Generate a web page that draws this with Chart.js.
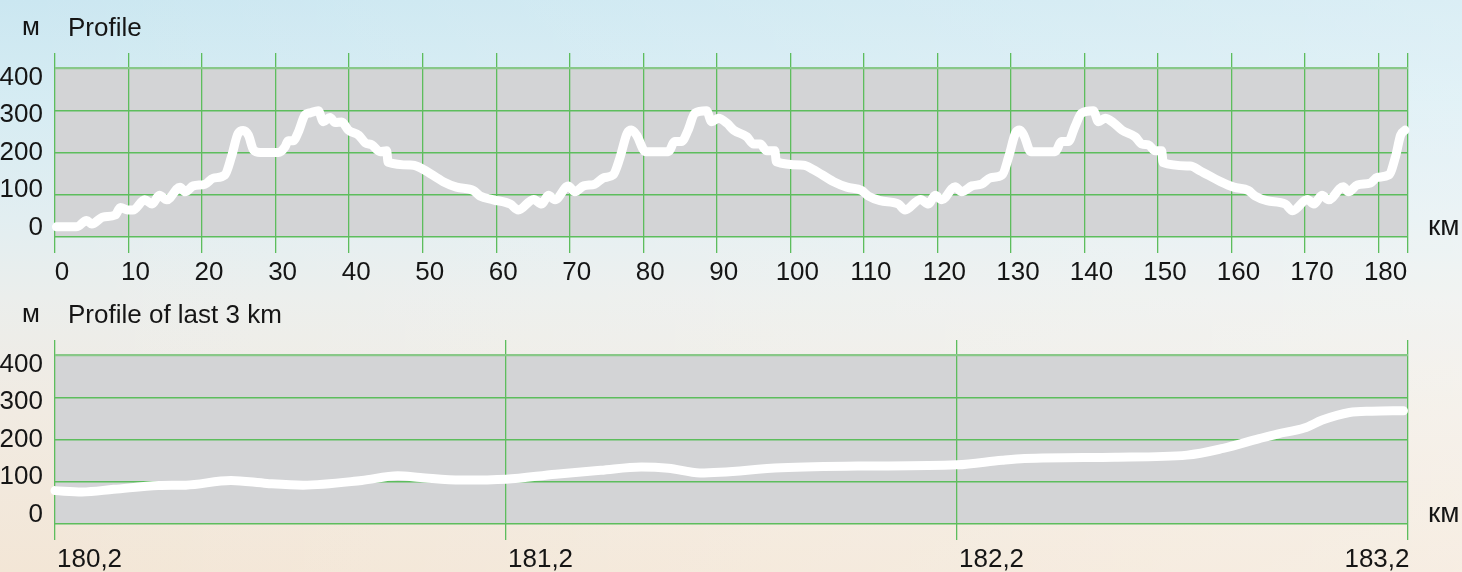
<!DOCTYPE html>
<html><head><meta charset="utf-8">
<script src="https://cdn.jsdelivr.net/npm/chart.js@4.4.1/dist/chart.umd.min.js"></script>
<style>
html,body{margin:0;padding:0;width:1462px;height:572px;overflow:hidden;}
body{
  background:
    linear-gradient(90deg, rgba(255,255,255,0) 0%, rgba(255,255,255,0.18) 60%, rgba(255,255,255,0.3) 100%),
    linear-gradient(180deg, #cbe7f1 0%, #d6ecf3 18%, #e2eef1 38%, #ebeeec 52%, #f1ebe2 72%, #f3e6d6 100%);
}
canvas{position:absolute;left:0;}
#c1{top:0;}
#c2{top:287px;}
</style></head><body>
<canvas id="c1" width="1462" height="285"></canvas>
<canvas id="c2" width="1462" height="285"></canvas>
<script>
// ---- data ----
const profileKm = [0.2, 2.9, 4.3, 5.0, 6.5, 8.2, 8.9, 9.9, 10.6, 12.2, 13.2, 14.2, 15.2, 17.0, 17.7, 18.8, 20.4, 21.5, 23.1, 24.0, 24.9, 25.6, 26.3, 27.0, 27.9, 30.4, 31.3, 31.7, 32.4, 33.1, 34.0, 34.7, 35.8, 36.5, 37.4, 38.1, 39.0, 39.9, 41.3, 42.2, 43.1, 44.2, 45.1, 45.3, 48.7, 50.1, 52.8, 54.6, 56.9, 57.8, 59.6, 61.9, 63.0, 65.1, 66.2, 67.1, 68.0, 69.8, 70.7, 71.9, 73.4, 74.6, 75.9, 76.8, 77.8, 78.4, 79.1, 80.3, 83.4, 84.3, 85.2, 86.1, 87.0, 88.6, 89.3, 90.2, 91.4, 92.3, 94.1, 95.0, 95.9, 96.8, 97.9, 98.1, 101.8, 103.1, 105.9, 107.7, 109.7, 110.6, 112.2, 114.7, 115.6, 117.7, 118.8, 119.7, 120.6, 122.4, 123.3, 124.7, 126.0, 127.2, 128.8, 129.7, 130.6, 131.2, 131.8, 132.7, 136.0, 136.9, 137.8, 138.7, 139.6, 141.2, 141.9, 142.8, 143.9, 145.1, 146.9, 147.8, 148.7, 149.6, 150.5, 150.7, 154.4, 155.7, 158.5, 160.3, 162.3, 163.2, 164.8, 167.3, 168.3, 170.3, 171.2, 172.3, 173.2, 175.2, 175.9, 177.1, 178.9, 179.8, 181.4, 182.3, 183.0, 183.6];
const profileElev = [24, 24, 39, 31, 47, 52, 70, 64, 64, 88, 78, 99, 88, 118, 107, 121, 125, 139, 147, 190, 245, 252, 241, 206, 200, 200, 214, 228, 228, 249, 289, 294, 299, 273, 283, 271, 272, 253, 241, 223, 218, 202, 204, 177, 170, 160, 131, 118, 110, 97, 88, 78, 64, 89, 78, 99, 88, 121, 107, 121, 125, 140, 147, 186, 245, 253, 241, 202, 202, 226, 226, 253, 293, 299, 273, 281, 269, 253, 237, 220, 220, 204, 204, 178, 170, 160, 131, 118, 110, 97, 86, 78, 64, 89, 78, 99, 88, 119, 107, 121, 125, 140, 147, 190, 245, 253, 239, 202, 202, 226, 226, 261, 293, 299, 273, 281, 271, 253, 237, 220, 218, 204, 204, 176, 168, 157, 131, 118, 110, 97, 86, 78, 62, 89, 78, 99, 88, 119, 107, 123, 128, 141, 147, 190, 241, 253];

const lastKm = [180.2, 180.26, 180.33, 180.43, 180.49, 180.59, 180.67, 180.75, 180.88, 180.96, 181.01, 181.1, 181.2, 181.31, 181.41, 181.5, 181.56, 181.63, 181.81, 181.98, 182.2, 182.3, 182.35, 182.55, 182.71, 182.79, 182.87, 182.91, 182.97, 183.01, 183.07, 183.12, 183.19];
const lastElev = [79, 76, 82, 91, 92, 103, 96, 92, 103, 114, 110, 104, 106, 118, 127, 135, 132, 121, 133, 137, 140, 151, 155, 158, 163, 179, 202, 213, 227, 246, 264, 267, 268];

const profileTicks = [0, 10, 20, 30, 40, 50, 60, 70, 80, 90, 100, 110, 120, 130, 140, 150, 160, 170, 180];
const lastTicks = [180.2, 181.2, 182.2, 183.2];
const lastTickLabels = ['180,2', '181,2', '182,2', '183,2'];
const elevTicks = [0, 100, 200, 300, 400];
const chartTitles = ['Profile', 'Profile of last 3 km'];
const yUnit = 'м';
const xUnit = 'км';

// ---- styling ----
const FONT = "'Liberation Sans', Arial, Helvetica, sans-serif";
const TXT = '#151515';
const GREEN = '#5dbd5d';
const GREEN_TOP = '#88c888';
const PLOT_BG = '#d3d4d6';
const FONT_SIZE = 26;
const TICK_LEN = 16;
const X_PAD = 4;

const decor = {
  id: 'decor',
  beforeDraw(chart, args, o) {
    const {ctx} = chart;
    const x = chart.scales.x, y = chart.scales.y;
    const top = y.getPixelForValue(elevTicks[elevTicks.length - 1]);
    const bottom = y.getPixelForValue(elevTicks[0]);
    ctx.save();
    ctx.fillStyle = PLOT_BG;
    ctx.fillRect(x.left, top, x.right - x.left, bottom - top);
    ctx.restore();
  },
  afterDraw(chart, args, o) {
    const {ctx} = chart;
    ctx.save();
    ctx.fillStyle = TXT;
    ctx.textBaseline = 'alphabetic';
    ctx.textAlign = 'left';
    ctx.font = FONT_SIZE + 'px ' + FONT;
    ctx.fillText(yUnit, 22, 35);
    ctx.fillText(o.title, 68, 36);
    ctx.font = '28px ' + FONT;
    ctx.fillText(xUnit, 1428, 235);
    ctx.restore();
  }
};

const tickFont = {family: FONT, size: FONT_SIZE};

function yAxes() {
  return {
    y: {
      position: 'left', min: 0, max: 435.5,
      border: {display: false},
      grid: {
        drawTicks: false,
        color: c => (c.tick && c.tick.value === elevTicks[elevTicks.length - 1]) ? GREEN_TOP : GREEN,
        lineWidth: c => (c.tick && c.tick.value === elevTicks[elevTicks.length - 1]) ? 2.2 : 1.4
      },
      ticks: {display: false},
      afterBuildTicks: s => { s.ticks = elevTicks.map(v => ({value: v})); },
      afterFit: s => { s.width = 0; }
    },
    yLab: {
      position: 'left', min: -25, max: 465,
      border: {display: false},
      grid: {display: false, drawTicks: false},
      ticks: {font: tickFont, color: TXT, padding: 12},
      afterBuildTicks: s => { s.ticks = elevTicks.map(v => ({value: v})); },
      afterFit: s => { s.width = 55; }
    }
  };
}

function baseOptions(title) {
  return {
    responsive: false,
    animation: false,
    events: [],
    layout: {padding: {top: 53, right: 54, bottom: 0, left: 0}},
    plugins: {legend: {display: false}, tooltip: {enabled: false}, decor: {title}},
  };
}

function lineDataset(xs, ys) {
  return {
    data: xs.map((v, i) => ({x: v, y: ys[i]})),
    borderColor: '#ffffff',
    borderWidth: 9,
    pointRadius: 0,
    borderCapStyle: 'round',
    borderJoinStyle: 'round',
    cubicInterpolationMode: 'monotone',
    fill: false,
    clip: false
  };
}

// ---- top chart ----
const opt1 = baseOptions(chartTitles[0]);
opt1.scales = Object.assign({
  x: {
    type: 'linear', position: 'bottom', min: 0, max: 184,
    border: {display: false},
    grid: {color: GREEN, lineWidth: 1.3, drawTicks: true, tickLength: TICK_LEN},
    afterBuildTicks: s => { s.ticks = profileTicks.map(v => ({value: v})).concat([{value: s.max}]); },
    ticks: {
      autoSkip: false, maxRotation: 0, minRotation: 0, font: tickFont, color: TXT, padding: X_PAD, labelOffset: 7,
      callback: v => profileTicks.includes(v) ? String(v) : ''
    },
    afterFit: s => { s.height = 48; }
  }
}, yAxes());

new Chart(document.getElementById('c1'), {
  type: 'line',
  data: {datasets: [lineDataset(profileKm, profileElev)]},
  options: opt1,
  plugins: [decor]
});

// ---- bottom chart ----
const lastIdx = lastTicks.length - 1;
const opt2 = baseOptions(chartTitles[1]);
opt2.scales = Object.assign({
  x: {
    type: 'linear', position: 'bottom', min: lastTicks[0], max: lastTicks[lastIdx], weight: 1,
    border: {display: false},
    grid: {color: GREEN, lineWidth: 1.3, drawTicks: true, tickLength: TICK_LEN},
    afterBuildTicks: s => { s.ticks = lastTicks.map(v => ({value: v})); },
    ticks: {
      autoSkip: false, maxRotation: 0, minRotation: 0, font: tickFont, color: TXT, padding: X_PAD, align: 'start', labelOffset: 2,
      callback: (v, i) => i < lastIdx ? lastTickLabels[i] : ''
    },
    afterFit: s => { s.height = 48; }
  },
  // second axis only for the right-aligned last label (mirror => unclipped, placed like the others)
  xEnd: {
    type: 'linear', position: 'bottom', min: lastTicks[0], max: lastTicks[lastIdx], weight: -1,
    border: {display: false},
    grid: {display: false, drawTicks: false},
    afterBuildTicks: s => { s.ticks = [{value: lastTicks[lastIdx]}]; },
    ticks: {
      autoSkip: false, maxRotation: 0, minRotation: 0, font: tickFont, color: TXT, align: 'end', labelOffset: 1.5,
      mirror: true, padding: -(TICK_LEN + X_PAD + FONT_SIZE * 1.2),
      callback: () => lastTickLabels[lastIdx]
    },
    afterFit: s => { s.height = 0; }
  }
}, yAxes());

new Chart(document.getElementById('c2'), {
  type: 'line',
  data: {datasets: [lineDataset(lastKm, lastElev)]},
  options: opt2,
  plugins: [decor]
});
</script>
</body></html>
